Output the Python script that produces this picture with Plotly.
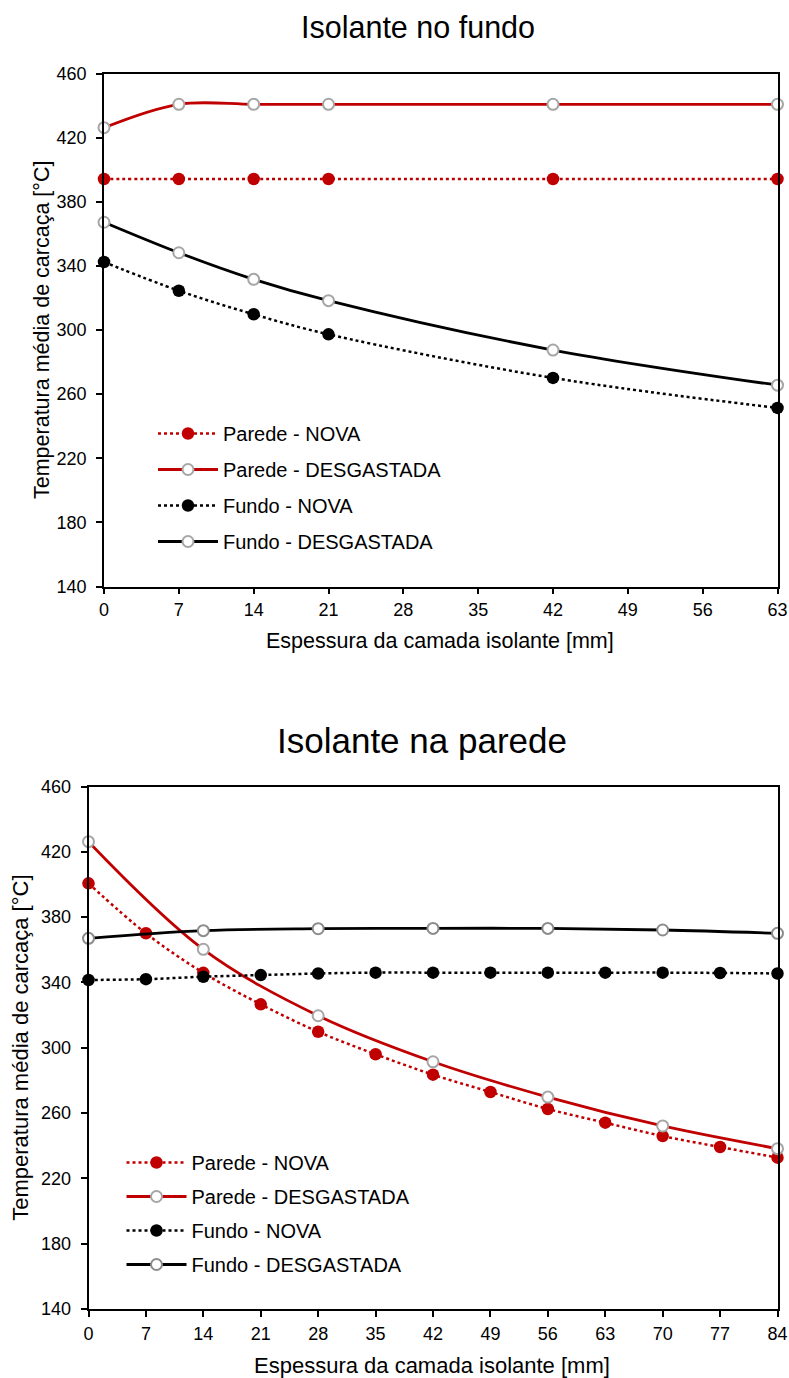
import plotly.graph_objects as go

# ---------------- data ----------------
x_top = [0, 7, 14, 21, 42, 63]
top_parede_nova = [394.2, 394.2, 394.2, 394.2, 394.2, 394.2]
top_parede_desg = [426.2, 440.8, 440.8, 440.8, 440.8, 440.8]
top_fundo_nova = [342.4, 324.5, 309.8, 297.3, 270.1, 251.4]
top_fundo_desg = [367.2, 348.2, 331.6, 318.3, 287.5, 265.6]

x_bot_nova = [0, 7, 14, 21, 28, 35, 42, 49, 56, 63, 70, 77, 84]
bot_parede_nova = [400.7, 370.1, 345.9, 326.6, 309.8, 296.0, 283.5, 272.9, 262.5, 254.1, 245.9, 239.2, 232.7]
bot_fundo_nova = [341.5, 342.0, 343.5, 344.5, 345.5, 346.0, 346.0, 346.0, 346.0, 346.0, 346.0, 345.8, 345.5]
x_bot_desg = [0, 14, 28, 42, 56, 70, 84]
bot_parede_desg = [426.2, 360.3, 319.6, 291.4, 269.8, 252.1, 238.2]
bot_fundo_desg = [367.0, 371.7, 372.9, 373.1, 373.1, 372.1, 370.1]

names = ["Parede - NOVA", "Parede - DESGASTADA", "Fundo - NOVA", "Fundo - DESGASTADA"]
title_top = "Isolante no fundo"
title_bot = "Isolante na parede"
x_title = "Espessura da camada isolante [mm]"
y_title = "Temperatura média de carcaça [°C]"

RED = "#c00000"
BLACK = "#000000"
GREY = "#a6a6a6"
FONT = "Liberation Sans, Arial, sans-serif"

W, H = 789, 1378


def style(kind, color, mcolor):
    if kind == "nova":
        return dict(mode="lines+markers",
                    line=dict(color=color, width=2.5, dash="dot", shape="spline"),
                    marker=dict(symbol="circle", size=12.5, color=color, line=dict(width=0)))
    return dict(mode="lines+markers",
                line=dict(color=color, width=2.8, shape="spline"),
                marker=dict(symbol="circle", size=11, color="white",
                            line=dict(color=mcolor, width=2)))


fig = go.Figure()

# top chart
series_top = [(top_parede_nova, "nova", RED, RED),
              (top_parede_desg, "desg", RED, GREY),
              (top_fundo_nova, "nova", BLACK, BLACK),
              (top_fundo_desg, "desg", BLACK, GREY)]
for i, (ys, kind, c, mc) in enumerate(series_top):
    fig.add_trace(go.Scatter(x=x_top, y=ys, name=names[i], xaxis="x", yaxis="y",
                             legend="legend", legendgroup="t%d" % i,
                             cliponaxis=False, **style(kind, c, mc)))

# bottom chart
series_bot = [(x_bot_nova, bot_parede_nova, "nova", RED, RED),
              (x_bot_desg, bot_parede_desg, "desg", RED, GREY),
              (x_bot_nova, bot_fundo_nova, "nova", BLACK, BLACK),
              (x_bot_desg, bot_fundo_desg, "desg", BLACK, "#8c8c8c")]
for i, (xs, ys, kind, c, mc) in enumerate(series_bot):
    fig.add_trace(go.Scatter(x=xs, y=ys, name=names[i], xaxis="x2", yaxis="y2",
                             legend="legend2", legendgroup="b%d" % i,
                             cliponaxis=False, **style(kind, c, mc)))

axis_common = dict(showgrid=False, zeroline=False, showline=True, linecolor="black",
                   linewidth=1.8, mirror=True, ticks="outside", ticklen=6, tickwidth=1.8,
                   tickcolor="black", automargin=False,
                   tickfont=dict(family=FONT, size=18, color="black"))

def px(x):
    return x / W

def py(y):
    return 1 - y / H

fig.update_layout(
    width=W, height=H,
    margin=dict(l=0, r=0, t=0, b=0, autoexpand=False),
    paper_bgcolor="white", plot_bgcolor="white",
    font=dict(family=FONT, color="black"),
    xaxis=dict(domain=[px(104), px(777.5)], range=[0, 63], tick0=0, dtick=7,
               anchor="y", ticklabelstandoff=0, **axis_common),
    yaxis=dict(domain=[py(586.5), py(73.5)], range=[140, 460], tick0=140, dtick=40,
               anchor="x", ticklabelstandoff=6, **axis_common),
    xaxis2=dict(domain=[px(88.5), px(777.5)], range=[0, 84], tick0=0, dtick=7,
                anchor="y2", ticklabelstandoff=1, **axis_common),
    yaxis2=dict(domain=[py(1309), py(786.5)], range=[140, 460], tick0=140, dtick=40,
                anchor="x2", ticklabelstandoff=6, **axis_common),
    legend=dict(x=px(153), y=py(414), xanchor="left", yanchor="top",
                font=dict(family=FONT, size=20, color="black"),
                bgcolor="rgba(0,0,0,0)", itemwidth=60, tracegroupgap=7,
                traceorder="grouped"),
    legend2=dict(x=px(121.5), y=py(1143), xanchor="left", yanchor="top",
                 font=dict(family=FONT, size=20, color="black"),
                 bgcolor="rgba(0,0,0,0)", itemwidth=60, tracegroupgap=5,
                 traceorder="grouped"),
    annotations=[
        dict(text=title_top, x=px(418), y=py(27), xref="paper", yref="paper",
             showarrow=False, xanchor="center", yanchor="middle",
             font=dict(family=FONT, size=30.5, color="black")),
        dict(text=title_bot, x=px(422), y=py(740), xref="paper", yref="paper",
             showarrow=False, xanchor="center", yanchor="middle",
             font=dict(family=FONT, size=35, color="black")),
        dict(text=x_title, x=px(440), y=py(641), xref="paper", yref="paper",
             showarrow=False, xanchor="center", yanchor="middle",
             font=dict(family=FONT, size=21.5, color="black")),
        dict(text=x_title, x=px(431.5), y=py(1365), xref="paper", yref="paper",
             showarrow=False, xanchor="center", yanchor="middle",
             font=dict(family=FONT, size=22, color="black")),
        dict(text=y_title, x=px(42), y=py(330), xref="paper", yref="paper",
             showarrow=False, xanchor="center", yanchor="middle", textangle=-90,
             font=dict(family=FONT, size=21.5, color="black")),
        dict(text=y_title, x=px(21), y=py(1047.75), xref="paper", yref="paper",
             showarrow=False, xanchor="center", yanchor="middle", textangle=-90,
             font=dict(family=FONT, size=22, color="black")),
    ],
)

fig.write_html("out.html")
